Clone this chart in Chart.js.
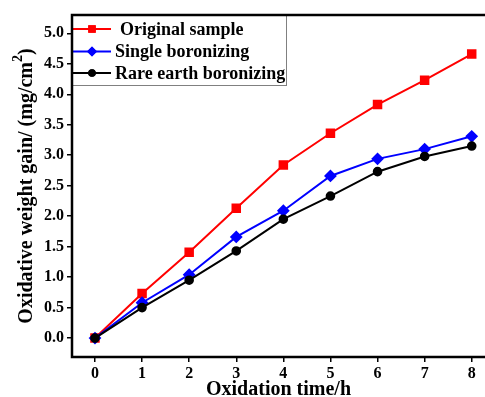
<!DOCTYPE html>
<html><head><meta charset="utf-8">
<script src="https://cdn.jsdelivr.net/npm/chart.js@4/dist/chart.umd.min.js"></script>
<style>html,body{margin:0;padding:0;background:#fff}#wrap{width:485px;height:397px}</style>
</head><body><div id="wrap"><canvas id="c" width="485" height="397"></canvas></div>
<script>
const hours = [0, 1, 2, 3, 4, 5, 6, 7, 8];
const originalSample = [0, 0.73, 1.41, 2.13, 2.84, 3.36, 3.83, 4.23, 4.66];
const singleBoronizing = [0, 0.58, 1.04, 1.66, 2.09, 2.66, 2.94, 3.10, 3.31];
const rareEarthBoronizing = [0, 0.50, 0.95, 1.43, 1.95, 2.33, 2.73, 2.98, 3.15];
const yTickValues = [0, 0.5, 1.0, 1.5, 2.0, 2.5, 3.0, 3.5, 4.0, 4.5, 5.0];
const xTickValues = [0, 1, 2, 3, 4, 5, 6, 7, 8];
const seriesLabels = ['Original sample', 'Single boronizing', 'Rare earth boronizing'];
const xTitle = 'Oxidation time/h';
const yTitleMain = 'Oxidative weight gain/ (mg/cm';
const yTitleSup = '2';
const yTitleEnd = ')';

const FONT = "'Liberation Serif', 'Times New Roman', serif";
const pts = arr => hours.map((h, i) => ({x: h, y: arr[i]}));

const frameAndLegend = {
  id: 'frameAndLegend',
  afterDraw(chart) {
    const ctx = chart.ctx, a = chart.chartArea;
    ctx.save();
    // legend
    const lx = a.left, ly = a.top, lw = 214, lh = 70;
    ctx.fillStyle = '#fff';
    ctx.fillRect(lx, ly, lw, lh);
    ctx.strokeStyle = '#808080';
    ctx.lineWidth = 1;
    ctx.strokeRect(lx + 0.5, ly + 0.5, lw, lh);
    const rows = [29, 51.5, 73];
    const textX = [120, 115, 115];
    chart.data.datasets.forEach((ds, i) => {
      const y = rows[i];
      ctx.strokeStyle = ds.borderColor;
      ctx.lineWidth = 2;
      ctx.beginPath(); ctx.moveTo(73, y); ctx.lineTo(111, y); ctx.stroke();
      ctx.fillStyle = ds.borderColor;
      ctx.beginPath();
      Chart.helpers.drawPoint(ctx, {pointStyle: ds.pointStyle, radius: ds.pointRadius, borderWidth: 0, rotation: 0}, 92, y);
      ctx.fill();
      ctx.fillStyle = '#000';
      ctx.font = "bold 18px " + FONT;
      ctx.textBaseline = 'middle';
      ctx.textAlign = 'left';
      ctx.fillText(ds.label, textX[i], y + 1);
    });
    // frame (right edge lies just outside the canvas)
    ctx.strokeStyle = '#000';
    ctx.lineWidth = 2.5;
    ctx.beginPath();
    ctx.moveTo(a.right + 2, a.top); ctx.lineTo(a.left, a.top); ctx.lineTo(a.left, a.bottom); ctx.lineTo(a.right + 2, a.bottom);
    ctx.stroke();
    // y title with superscript
    ctx.translate(27, (a.top + a.bottom) / 2);
    ctx.rotate(-Math.PI / 2);
    ctx.fillStyle = '#000';
    ctx.textBaseline = 'middle';
    ctx.textAlign = 'left';
    const fMain = "bold 20px " + FONT, fSup = "bold 14px " + FONT;
    ctx.font = fMain; const w1 = ctx.measureText(yTitleMain).width; const w3 = ctx.measureText(yTitleEnd).width;
    ctx.font = fSup; const w2 = ctx.measureText(yTitleSup).width;
    let x = -(w1 + w2 + w3) / 2;
    ctx.font = fMain; ctx.fillText(yTitleMain, x, 0); x += w1;
    ctx.font = fSup; ctx.fillText(yTitleSup, x, -9); x += w2;
    ctx.font = fMain; ctx.fillText(yTitleEnd, x, 0);
    ctx.restore();
  }
};

new Chart(document.getElementById('c'), {
  type: 'line',
  data: {
    datasets: [
      {label: seriesLabels[0], data: pts(originalSample), borderColor: '#ff0000', backgroundColor: '#ff0000', pointStyle: 'rect', pointRadius: 5.3, borderWidth: 2, order: 3},
      {label: seriesLabels[1], data: pts(singleBoronizing), borderColor: '#0000ff', backgroundColor: '#0000ff', pointStyle: 'rectRot', pointRadius: 5, borderWidth: 2, order: 2},
      {label: seriesLabels[2], data: pts(rareEarthBoronizing), borderColor: '#000000', backgroundColor: '#000000', pointStyle: 'circle', pointRadius: 3.8, borderWidth: 2, order: 1}
    ]
  },
  options: {
    responsive: false,
    animation: false,
    devicePixelRatio: 1,
    layout: {autoPadding: false, padding: {left: 0, right: 0, top: 15, bottom: 0}},
    elements: {line: {tension: 0}, point: {borderWidth: 1}},
    plugins: {legend: {display: false}, tooltip: {enabled: false}},
    scales: {
      x: {
        type: 'linear', min: -0.488, max: 8.282,
        afterBuildTicks: s => { s.ticks = xTickValues.map(v => ({value: v})); },
        afterFit: s => { s.height = 40; s.paddingLeft = 0; s.paddingRight = 0; },
        grid: {drawOnChartArea: false, drawTicks: true, tickLength: 5, color: '#000', lineWidth: 1.5},
        border: {display: false},
        ticks: {color: '#000', font: {family: FONT, size: 16, weight: 'bold'}, padding: 2, maxRotation: 0},
        title: {display: true, text: xTitle, color: '#000', font: {family: FONT, size: 20, weight: 'bold'}, padding: {top: 0, bottom: -5}}
      },
      y: {
        type: 'linear', min: -0.31, max: 5.3,
        afterBuildTicks: s => { s.ticks = yTickValues.map(v => ({value: v})); },
        afterFit: s => { s.width = 72; s.paddingTop = 0; s.paddingBottom = 0; },
        grid: {drawOnChartArea: false, drawTicks: true, tickLength: 5, color: '#000', lineWidth: 1.5},
        border: {display: false},
        ticks: {color: '#000', font: {family: FONT, size: 16, weight: 'bold'}, padding: 3, callback: v => v.toFixed(1)}
      }
    }
  },
  plugins: [frameAndLegend]
});
</script></body></html>
